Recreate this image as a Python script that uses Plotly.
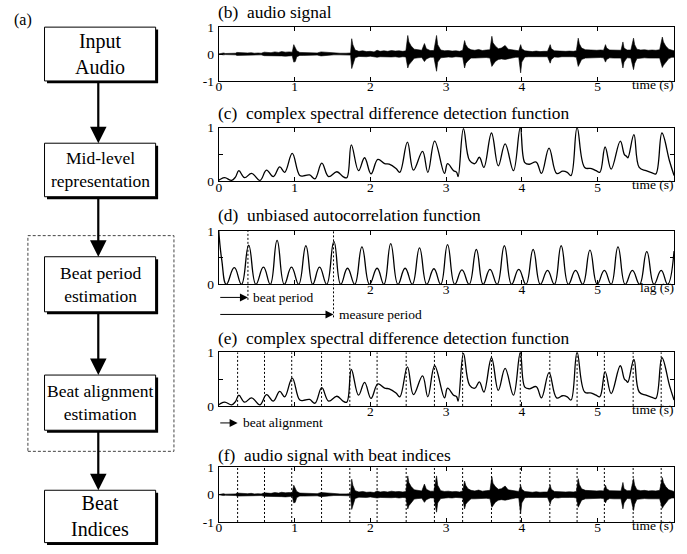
import plotly.graph_objects as go

W, H = 687, 554
FONT = "Liberation Serif, Times New Roman, serif"

# ---------------- data ----------------
audio_t = [0.00, 0.03, 0.06, 0.09, 0.13, 0.18, 0.22, 0.24, 0.28, 0.33, 0.38, 0.43, 0.47, 0.52, 0.56,
           0.60, 0.64, 0.69, 0.74, 0.79, 0.83, 0.88, 0.93, 0.97, 0.99, 1.01, 1.03, 1.07, 1.12, 1.18,
           1.24, 1.30, 1.35, 1.40, 1.45, 1.52, 1.60, 1.68, 1.74, 1.755, 1.77, 1.80, 1.85, 1.90, 1.95,
           2.00, 2.05, 2.09, 2.13, 2.18, 2.23, 2.28, 2.33, 2.38, 2.43, 2.47, 2.495, 2.51, 2.54, 2.58,
           2.63, 2.68, 2.715, 2.74, 2.79, 2.84, 2.875, 2.89, 2.93, 2.98, 3.03, 3.08, 3.13, 3.18, 3.22,
           3.245, 3.26, 3.29, 3.33, 3.38, 3.43, 3.48, 3.53, 3.58, 3.605, 3.62, 3.65, 3.69, 3.73, 3.78,
           3.82, 3.87, 3.92, 3.96, 3.985, 4.00, 4.04, 4.09, 4.14, 4.19, 4.24, 4.29, 4.34, 4.375, 4.39,
           4.43, 4.48, 4.53, 4.58, 4.63, 4.68, 4.72, 4.745, 4.76, 4.79, 4.84, 4.89, 4.94, 4.99, 5.04,
           5.08, 5.105, 5.12, 5.16, 5.21, 5.26, 5.31, 5.335, 5.35, 5.39, 5.44, 5.475, 5.49, 5.52, 5.57,
           5.62, 5.67, 5.72, 5.77, 5.82, 5.855, 5.87, 5.90, 5.94, 5.98, 6.01]
audio_hi = [0.00, 0.03, 0.04, 0.02, 0.02, 0.02, 0.03, 0.06, 0.05, 0.05, 0.04, 0.05, 0.03, 0.04, 0.03,
            0.07, 0.06, 0.05, 0.08, 0.06, 0.09, 0.07, 0.08, 0.07, 0.35, 0.20, 0.12, 0.06, 0.05, 0.04,
            0.05, 0.04, 0.08, 0.07, 0.04, 0.03, 0.03, 0.03, 0.04, 0.57, 0.35, 0.15, 0.10, 0.12, 0.09,
            0.10, 0.08, 0.14, 0.10, 0.12, 0.10, 0.13, 0.11, 0.12, 0.10, 0.12, 0.69, 0.45, 0.30, 0.18,
            0.15, 0.14, 0.39, 0.20, 0.13, 0.13, 0.69, 0.35, 0.15, 0.12, 0.13, 0.11, 0.12, 0.10, 0.14,
            0.50, 0.35, 0.22, 0.16, 0.14, 0.17, 0.13, 0.15, 0.16, 0.66, 0.42, 0.30, 0.20, 0.22, 0.32,
            0.18, 0.16, 0.14, 0.12, 0.35, 0.20, 0.12, 0.10, 0.09, 0.11, 0.09, 0.10, 0.10, 0.35, 0.20,
            0.12, 0.11, 0.12, 0.10, 0.11, 0.10, 0.12, 0.59, 0.38, 0.22, 0.16, 0.15, 0.16, 0.14, 0.15,
            0.14, 0.35, 0.22, 0.15, 0.14, 0.15, 0.14, 0.45, 0.22, 0.15, 0.15, 0.59, 0.35, 0.18, 0.15,
            0.16, 0.14, 0.15, 0.14, 0.16, 0.63, 0.45, 0.30, 0.18, 0.13, 0.12]
audio_lo = [0.00, -0.02, -0.03, -0.02, -0.02, -0.01, -0.03, -0.05, -0.05, -0.04, -0.05, -0.04, -0.03, -0.04, -0.03,
            -0.06, -0.06, -0.05, -0.07, -0.06, -0.07, -0.08, -0.07, -0.06, -0.30, -0.28, -0.10, -0.05, -0.05, -0.04,
            -0.04, -0.04, -0.07, -0.06, -0.03, -0.03, -0.03, -0.03, -0.04, -0.54, -0.40, -0.14, -0.09, -0.10, -0.10,
            -0.08, -0.09, -0.12, -0.10, -0.11, -0.12, -0.11, -0.10, -0.12, -0.10, -0.11, -0.52, -0.40, -0.30, -0.16,
            -0.14, -0.13, -0.28, -0.18, -0.12, -0.12, -0.64, -0.30, -0.14, -0.12, -0.11, -0.12, -0.10, -0.11, -0.12,
            -0.52, -0.35, -0.25, -0.15, -0.15, -0.14, -0.14, -0.13, -0.15, -0.46, -0.40, -0.28, -0.20, -0.18, -0.20,
            -0.17, -0.15, -0.12, -0.12, -0.70, -0.30, -0.11, -0.10, -0.09, -0.10, -0.10, -0.09, -0.10, -0.34, -0.20,
            -0.11, -0.12, -0.10, -0.11, -0.10, -0.10, -0.12, -0.46, -0.35, -0.20, -0.15, -0.14, -0.15, -0.14, -0.13,
            -0.14, -0.30, -0.20, -0.14, -0.15, -0.14, -0.15, -0.52, -0.30, -0.14, -0.15, -0.58, -0.35, -0.17, -0.15,
            -0.14, -0.15, -0.14, -0.15, -0.15, -0.50, -0.42, -0.30, -0.17, -0.12, -0.12]

odf_t = [0.00, 0.02, 0.08, 0.17, 0.22, 0.265, 0.34, 0.435, 0.545, 0.63, 0.72, 0.805, 0.87, 0.97,
         1.07, 1.14, 1.20, 1.27, 1.36, 1.45, 1.56, 1.64, 1.69, 1.75, 1.845, 1.925, 2.01, 2.10, 2.19,
         2.25, 2.34, 2.39, 2.49, 2.57, 2.69, 2.76, 2.85, 2.98, 3.02, 3.10, 3.14, 3.16, 3.23, 3.31,
         3.38, 3.44, 3.50, 3.60, 3.69, 3.78, 3.89, 3.98, 4.04, 4.10, 4.19, 4.26, 4.36, 4.46, 4.54,
         4.60, 4.65, 4.73, 4.83, 4.92, 4.98, 5.03, 5.10, 5.18, 5.30, 5.355, 5.38, 5.40, 5.48, 5.55,
         5.64, 5.72, 5.77, 5.85, 5.95, 6.01]
odf_v = [0.02, 0.04, 0.07, 0.02, 0.08, 0.20, 0.07, 0.15, 0.02, 0.21, 0.09, 0.27, 0.17, 0.52,
         0.11, 0.11, 0.12, 0.05, 0.34, 0.09, 0.18, 0.09, 0.07, 0.68, 0.20, 0.44, 0.14, 0.41, 0.33,
         0.32, 0.24, 0.17, 0.73, 0.21, 0.56, 0.17, 0.75, 0.15, 0.33, 0.20, 0.17, 0.09, 0.98, 0.39,
         0.33, 0.45, 0.26, 0.90, 0.29, 0.70, 0.20, 1.00, 0.35, 0.32, 0.36, 0.15, 0.62, 0.15, 0.19,
         0.17, 0.11, 1.00, 0.26, 0.24, 0.20, 0.17, 0.64, 0.23, 0.75, 0.50, 0.47, 0.44, 0.87, 0.26,
         0.20, 0.16, 0.14, 0.90, 0.38, 0.11]

acf_t = [0.00, 0.04, 0.10, 0.205, 0.30, 0.395, 0.49, 0.59, 0.68, 0.77, 0.865, 0.96, 1.055, 1.15,
         1.24, 1.33, 1.425, 1.52, 1.61, 1.70, 1.795, 1.89, 1.99, 2.09, 2.18, 2.27, 2.365, 2.46,
         2.555, 2.65, 2.745, 2.84, 2.93, 3.02, 3.115, 3.21, 3.305, 3.40, 3.49, 3.58, 3.675, 3.77,
         3.865, 3.96, 4.055, 4.15, 4.245, 4.34, 4.43, 4.52, 4.615, 4.71, 4.805, 4.90, 4.995, 5.09,
         5.18, 5.27, 5.365, 5.46, 5.555, 5.65, 5.745, 5.84, 5.925, 6.01]
acf_v = [1.00, 0.45, 0.00, 0.31, 0.00, 0.73, 0.00, 0.32, 0.00, 0.82, 0.00, 0.32, 0.00, 0.72,
         0.00, 0.32, 0.00, 0.80, 0.00, 0.30, 0.00, 0.70, 0.00, 0.30, 0.00, 0.76, 0.00, 0.30,
         0.00, 0.68, 0.00, 0.29, 0.00, 0.74, 0.00, 0.27, 0.00, 0.65, 0.00, 0.28, 0.00, 0.72,
         0.00, 0.28, 0.00, 0.65, 0.00, 0.26, 0.00, 0.72, 0.00, 0.26, 0.00, 0.64, 0.00, 0.26,
         0.00, 0.70, 0.00, 0.26, 0.00, 0.61, 0.00, 0.26, 0.00, 0.62]

beat_times = [0.249, 0.604, 0.963, 1.357, 1.73, 2.09, 2.474, 2.847, 3.219, 3.60, 3.98,
              4.37, 4.73, 5.09, 5.47, 5.84]
beat_period = 0.385
measure_period = 1.515

x_tickvals = [0, 1, 2, 3, 4, 5]
time_ticktext = ["0", "1", "2", "3", "4", "5"]
lag_ticktext = ["", "", "2", "3", "4", "5"]
panel_titles = ["(b)\u00a0 audio signal",
                "(c)\u00a0 complex spectral difference detection function",
                "(d)\u00a0 unbiased autocorrelation function",
                "(e)\u00a0 complex spectral difference detection function",
                "(f)\u00a0 audio signal with beat indices"]
flow_labels = ["Input<br>Audio", "Mid-level<br>representation", "Beat period<br>estimation",
               "Beat alignment<br>estimation", "Beat<br>Indices"]


def X(px):
    return px / W


def Y(py):
    return 1 - py / H


# ---------------- panels ----------------
panels = [
    dict(top=20.7, bottom=76, ty=8.3, yr=[-1, 1], yt=[-1, 0, 1], ytt=["-1", "0", "1"], xtt=time_ticktext, xl="time (s)"),
    dict(top=124, bottom=179.3, ty=111.7, yr=[0, 1], yt=[0, 0.5, 1], ytt=["0", "", "1"], xtt=time_ticktext, xl="time (s)"),
    dict(top=230, bottom=285, ty=216.7, yr=[0, 1], yt=[0, 0.5, 1], ytt=["0", "", "1"], xtt=lag_ticktext, xl="lag (s)"),
    dict(top=355, bottom=410, ty=343.3, yr=[0, 1], yt=[0, 0.5, 1], ytt=["0", "", "1"], xtt=lag_ticktext, xl="time (s)"),
    dict(top=473.3, bottom=529.3, ty=463, yr=[-1, 1], yt=[-1, 0, 1], ytt=["-1", "0", "1"], xtt=time_ticktext, xl="time (s)"),
]

fig = go.Figure()
layout = dict(width=W, height=H, margin=dict(l=0, r=0, t=0, b=0),
              paper_bgcolor="white", plot_bgcolor="white", showlegend=False,
              font=dict(family=FONT, color="black", size=13))
annotations = []
shapes = []
xdom = [X(216.7), X(674)]

for i, p in enumerate(panels):
    n = i + 1
    sfx = "" if n == 1 else str(n)
    layout["xaxis" + sfx] = dict(domain=xdom, range=[0, 6.01], anchor="y" + sfx,
                                 showline=True, linecolor="black", linewidth=1, mirror="ticks",
                                 ticks="inside", ticklen=4, tickcolor="black", tickwidth=1,
                                 tickvals=x_tickvals, ticktext=p["xtt"], showgrid=False, zeroline=False,
                                 ticklabelstandoff=-7,
                                 tickfont=dict(family=FONT, size=13.5, color="black"), fixedrange=True)
    layout["yaxis" + sfx] = dict(domain=[Y(p["bottom"]), Y(p["top"])], range=p["yr"], anchor="x" + sfx,
                                 showline=True, linecolor="black", linewidth=1, mirror="ticks",
                                 ticks="inside", ticklen=4, tickcolor="black", tickwidth=1,
                                 tickvals=p["yt"], ticktext=p["ytt"], showgrid=False, zeroline=False,
                                 ticklabelstandoff=1,
                                 tickfont=dict(family=FONT, size=13.5, color="black"), fixedrange=True)
    annotations.append(dict(text=panel_titles[i], xref="paper", yref="paper", x=X(213.5), y=Y(p["ty"] - 3),
                            xanchor="left", yanchor="middle", showarrow=False,
                            font=dict(family=FONT, size=17.4, color="black")))
    annotations.append(dict(text=p["xl"], xref="x" + sfx + " domain", yref="y" + sfx + " domain",
                            x=1, y=0, xanchor="right", yanchor="top", yshift=6, xshift=2, showarrow=False,
                            font=dict(family=FONT, size=13.5, color="black")))

# audio panels
for sfx in ["", "5"]:
    fig.add_trace(go.Scatter(x=audio_t, y=audio_hi, mode="lines", line=dict(color="black", width=0.6),
                             xaxis="x" + sfx, yaxis="y" + sfx, hoverinfo="skip"))
    fig.add_trace(go.Scatter(x=audio_t, y=audio_lo, mode="lines", line=dict(color="black", width=0.6),
                             fill="tonexty", fillcolor="black",
                             xaxis="x" + sfx, yaxis="y" + sfx, hoverinfo="skip"))

# detection functions
for sfx in ["2", "4"]:
    fig.add_trace(go.Scatter(x=odf_t, y=odf_v, mode="lines",
                             line=dict(color="black", width=1.3, shape="spline", smoothing=1.1),
                             xaxis="x" + sfx, yaxis="y" + sfx, hoverinfo="skip"))

# autocorrelation
fig.add_trace(go.Scatter(x=acf_t, y=acf_v, mode="lines",
                         line=dict(color="black", width=1.3, shape="spline", smoothing=1.3),
                         xaxis="x3", yaxis="y3", hoverinfo="skip"))

DOT = "2px,2px"
# beat lines in (e) and (f)
for sfx in ["4", "5"]:
    for bt in beat_times:
        shapes.append(dict(type="line", xref="x" + sfx, yref="y" + sfx + " domain",
                           x0=bt, x1=bt, y0=0, y1=1, line=dict(color="black", width=1, dash=DOT)))

# period lines in (d)
shapes.append(dict(type="line", xref="x3", yref="paper", x0=beat_period, x1=beat_period,
                   y0=Y(301), y1=Y(230), line=dict(color="black", width=1, dash=DOT)))
shapes.append(dict(type="line", xref="x3", yref="paper", x0=measure_period, x1=measure_period,
                   y0=Y(319), y1=Y(230), line=dict(color="black", width=1, dash=DOT)))

# arrows with labels under (d) and (e)
for xref, xv, py, label in [("x3", beat_period, 298.5, "beat period"),
                            ("x3", measure_period, 316, "measure period"),
                            ("x4", beat_times[0], 427.5, "beat alignment")]:
    annotations.append(dict(text="", xref=xref, yref="paper", x=xv, y=Y(py), axref=xref, ax=0,
                            ayref="pixel", ay=0, showarrow=True, arrowhead=2, arrowsize=1.6,
                            arrowwidth=1, arrowcolor="black", standoff=0))
    annotations.append(dict(text=label, xref=xref, yref="paper", x=xv, y=Y(py), xanchor="left",
                            yanchor="middle", xshift=3, showarrow=False,
                            font=dict(family=FONT, size=13.5, color="black")))

# ---------------- flowchart ----------------
boxes = [(41.7, 20.7, 153.3, 76, 20), (41.7, 140, 153.3, 195, 17.5), (41.7, 256.7, 153.3, 313.3, 17.5),
         (41.7, 378.3, 153.3, 435, 17.5), (41.7, 496.7, 153.3, 550.5, 20)]
shapes.append(dict(type="rect", xref="paper", yref="paper", x0=X(25), x1=X(171.7), y0=Y(456.7), y1=Y(235),
                   line=dict(color="#444444", width=1, dash="3px,2px"), fillcolor="rgba(0,0,0,0)", layer="below"))
for (x0, y0, x1, y1, fs), lab in zip(boxes, flow_labels):
    shapes.append(dict(type="rect", xref="paper", yref="paper", x0=X(x0 + 2.5), x1=X(x1 + 2.5),
                       y0=Y(y1 + 2.5), y1=Y(y0 + 2.5), line=dict(width=0), fillcolor="black"))
    shapes.append(dict(type="rect", xref="paper", yref="paper", x0=X(x0), x1=X(x1), y0=Y(y1), y1=Y(y0),
                       line=dict(color="black", width=1), fillcolor="white"))
    annotations.append(dict(text=lab, xref="paper", yref="paper", x=X((x0 + x1) / 2), y=Y((y0 + y1) / 2),
                            xanchor="center", yanchor="middle", showarrow=False,
                            font=dict(family=FONT, size=fs, color="black")))
for i in range(len(boxes) - 1):
    tail = boxes[i][3] + 2
    head = boxes[i + 1][1]
    annotations.append(dict(text="", xref="paper", yref="paper", x=X(95.7), y=Y(head),
                            ax=0, ay=tail - head, axref="pixel", ayref="pixel", showarrow=True,
                            arrowhead=2, arrowsize=1.5, arrowwidth=2.2, arrowcolor="black", standoff=0))
annotations.append(dict(text="(a)", xref="paper", yref="paper", x=X(20), y=Y(13), showarrow=False,
                        xanchor="center", yanchor="middle", font=dict(family=FONT, size=16, color="black")))

layout["annotations"] = annotations
layout["shapes"] = shapes
fig.update_layout(**layout)
fig.write_html("out.html")
